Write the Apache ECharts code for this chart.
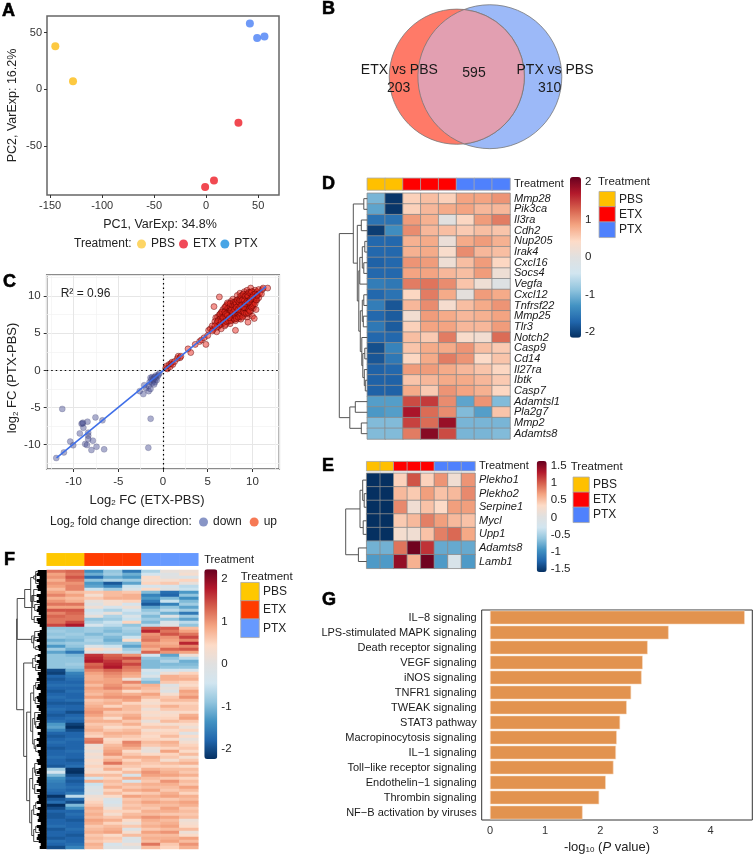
<!DOCTYPE html>
<html lang="en">

<head>
    <meta charset="UTF-8">
    <title>Treatment figure</title>
    <script src="https://cdn.jsdelivr.net/npm/echarts@6/dist/echarts.min.js"></script>
    <style>
        html, body { margin: 0; padding: 0; background: #fff; }
        #chart { width: 755px; height: 864px; }
    </style>
</head>

<body>
    <div id="chart"></div>
    <script>
        // ---- panel A
        const pcaPBS = [[-145, 38], [-128, 7]];
        const pcaETX = [[-1, -86.3], [7.5, -80.7], [31, -29.5]];
        const pcaPTX = [[42, 58], [49, 45.3], [56, 46.5]];

        // ---- panel B
        const vennCounts = [203, 595, 310];

        // ---- panel C
        const fcDown = [[-11.26, -5.2], [-9.0, -7.15], [-9.1, -7.2], [-8.95, -7.05], [-8.44, -6.92], [-7.55, -6.34], [-6.77, -6.74],
            [-8.9, -7.73], [-9.3, -8.5], [-8.36, -8.4], [-8.36, -8.8], [-8.36, -9.26], [-7.84, -9.48], [-10.37, -9.6],
            [-10.04, -10.1], [-8.7, -9.93], [-8.5, -10.07], [-7.43, -10.3], [-8, -10.74], [-6.58, -10.65], [-11.08, -11.06],
            [-11.93, -11.82], [-1.38, -6.52], [-1.64, -10.43],
            [-2.6, -2.8], [-2.2, -3.2], [-2.1, -2.0], [-1.9, -2.4], [-1.6, -2.8], [-1.6, -2.1], [-1.4, -2.5], [-1.3, -1.2],
            [-1.5, -1.6], [-1.2, -1.7], [-1.1, -1.4], [-1.4, -1.0], [-1.0, -1.0], [-1.2, -0.9], [-0.9, -1.6], [-0.8, -1.1],
            [-1.0, -1.9], [-0.8, -0.7], [-0.7, -1.3], [-0.6, -0.8], [-0.5, -0.6], [-0.4, -0.4], [-1.1, -1.2], [-0.9, -0.9]];
        const fcUp = [[0.3, 0.3], [0.4, 0.6], [0.5, 0.2], [0.7, 0.8], [0.8, 0.5], [0.9, 0.9], [1.0, 1.1], [1.1, 0.8], [1.3, 1.2],
            [1.6, 1.6], [1.7, 1.9], [1.9, 1.7], [2.0, 1.9], [2.8, 2.9], [3.1, 2.4], [3.6, 3.5], [4.1, 3.9], [4.3, 4.1], [4.6, 4.4],
            [4.8, 3.5], [5.0, 4.7], [5.1, 5.4], [5.3, 5.6],
            [5.5, 6.0], [5.6, 5.5], [5.7, 8.6], [5.8, 6.6], [5.9, 7.1], [6.0, 5.2], [6.0, 6.3], [6.1, 7.2], [6.2, 5.9], [6.2, 6.8],
            [6.3, 9.9], [6.3, 7.5], [6.4, 6.2], [6.5, 7.8], [6.5, 5.6], [6.6, 6.9], [6.6, 7.3], [6.7, 8.2], [6.7, 6.4], [6.8, 7.0],
            [6.8, 7.7], [6.9, 8.5], [6.9, 6.0], [7.0, 7.3], [7.0, 6.7], [7.0, 8.0], [7.1, 8.8], [7.1, 7.5], [7.2, 6.5], [7.2, 7.1],
            [7.2, 8.3], [7.3, 7.8], [7.3, 9.0], [7.4, 6.9], [7.4, 7.4], [7.4, 8.6], [7.5, 8.1], [7.5, 7.6], [7.5, 6.3], [7.6, 7.2],
            [7.6, 9.3], [7.6, 8.4], [7.7, 7.9], [7.7, 6.8], [7.7, 8.9], [7.8, 7.5], [7.8, 8.2], [7.8, 9.6], [7.9, 8.6], [7.9, 7.0],
            [7.9, 7.8], [8.0, 8.4], [8.0, 9.1], [8.0, 7.4], [8.1, 5.4], [8.1, 8.0], [8.1, 6.7], [8.1, 8.8], [8.2, 9.4], [8.2, 7.7],
            [8.2, 8.3], [8.3, 7.2], [8.3, 8.6], [8.3, 10.1], [8.4, 9.0], [8.4, 8.0], [8.4, 7.5], [8.5, 9.6], [8.5, 8.4], [8.5, 7.0],
            [8.6, 8.8], [8.6, 10.4], [8.6, 7.8], [8.7, 9.2], [8.7, 8.2], [8.7, 6.9], [8.8, 9.8], [8.8, 8.6], [8.8, 7.5], [8.9, 10.2],
            [8.9, 9.0], [8.9, 8.1], [9.0, 9.4], [9.0, 7.4], [9.0, 8.7], [9.1, 10.6], [9.1, 9.9], [9.1, 8.3], [9.2, 9.2], [9.2, 7.9],
            [9.2, 8.8], [9.3, 10.3], [9.3, 9.6], [9.3, 8.5], [9.4, 9.0], [9.4, 7.2], [9.4, 10.8], [9.5, 6.5], [9.5, 9.4], [9.5, 8.2],
            [9.6, 10.0], [9.6, 8.9], [9.6, 7.6], [9.7, 9.6], [9.7, 10.5], [9.7, 8.5], [9.8, 9.2], [9.8, 11.1], [9.8, 8.0], [9.9, 10.1],
            [9.9, 9.0], [10.0, 9.6], [10.0, 10.6], [10.0, 7.3], [10.1, 8.4], [10.1, 9.9], [10.2, 7.0], [10.2, 10.3], [10.2, 9.2],
            [10.3, 10.8], [10.3, 9.7], [10.4, 8.2], [10.4, 10.1], [10.5, 9.5], [10.5, 10.6], [10.6, 10.2], [10.7, 9.8], [10.7, 10.9],
            [10.8, 10.4], [11.0, 10.3], [11.1, 10.9], [11.2, 11.1], [11.7, 11.1],
            [7.1, 7.0], [7.3, 7.2], [7.4, 8.1], [7.6, 7.8], [7.8, 8.0], [7.9, 8.3], [8.0, 7.7], [8.1, 8.4], [8.2, 8.7], [8.3, 8.1],
            [8.4, 8.4], [8.5, 8.9], [8.6, 8.3], [8.7, 8.7], [8.8, 9.1], [8.9, 8.6], [9.0, 9.1], [9.1, 8.9], [9.2, 9.5], [9.3, 9.1],
            [9.4, 9.7], [9.5, 9.0], [9.6, 9.4], [9.7, 9.1], [9.8, 9.9], [9.9, 9.5], [10.0, 10.0], [10.1, 9.4], [8.2, 8.0], [8.5, 8.1],
            [8.8, 8.2], [9.0, 8.2], [8.4, 9.4], [8.7, 9.6], [9.0, 9.9], [9.3, 8.0], [7.6, 8.7], [7.3, 8.4], [6.9, 7.4], [6.4, 7.0],
            [6.1, 6.6], [6.3, 6.1], [6.4, 7.6], [6.5, 6.6], [6.6, 7.9], [6.7, 7.1], [6.8, 6.5], [6.9, 7.9], [7.0, 6.2], [7.0, 8.6],
            [7.1, 6.6], [7.2, 7.7], [7.2, 9.1], [7.3, 6.7], [7.4, 7.7], [7.5, 7.1], [7.5, 8.6], [7.5, 9.0], [7.6, 6.7], [7.7, 7.4],
            [7.7, 8.3], [7.8, 7.1], [7.8, 8.7], [7.9, 9.2], [7.9, 7.4], [8.0, 6.9], [8.0, 8.0], [8.0, 8.8], [8.1, 7.4], [8.1, 9.2],
            [8.2, 7.0], [8.2, 9.0], [8.3, 7.7], [8.3, 9.5], [8.4, 7.2], [8.4, 8.7], [8.5, 7.6], [8.5, 9.2], [8.6, 7.3], [8.6, 9.5],
            [8.7, 7.7], [8.7, 10.0], [8.8, 8.0], [8.8, 9.4], [8.9, 7.2], [8.9, 9.5], [9.0, 7.9], [9.0, 10.3], [9.1, 7.7], [9.1, 9.4],
            [9.2, 8.4], [9.2, 10.0], [9.3, 7.7], [9.3, 8.8], [9.4, 8.4], [9.4, 10.2], [9.5, 7.8], [9.5, 8.7], [9.5, 10.0], [9.6, 8.2],
            [9.6, 10.5], [9.7, 8.0], [9.7, 8.9], [9.8, 8.6], [9.8, 10.4], [9.9, 8.5], [9.9, 10.6], [10.0, 8.7], [10.0, 9.2], [10.1, 10.2],
            [10.1, 8.9], [10.2, 9.7], [10.3, 9.0], [10.3, 10.3], [10.4, 9.5], [10.5, 10.1], [6.0, 5.8], [5.8, 6.0], [5.5, 5.3], [7.0, 7.6],
            [7.2, 7.4], [7.4, 7.1], [7.6, 8.1], [7.8, 7.8], [8.0, 8.2], [8.2, 8.5], [8.4, 8.2], [8.6, 8.6], [8.8, 8.8], [9.0, 8.5],
            [9.2, 9.0], [9.4, 9.3], [9.6, 9.2], [9.8, 9.6], [10.0, 9.9]];
        const fcFit = [[-11.9, -11.8], [11.5, 11.3]];

        // ---- panel D, genes by columns PBS PBS ETX ETX ETX PTX PTX PTX
        const treatmentCols = [0, 0, 1, 1, 1, 2, 2, 2];
        const genesD = ['Mmp28', 'Pik3ca', 'Il3ra', 'Cdh2', 'Nup205', 'Irak4', 'Cxcl16', 'Socs4', 'Vegfa', 'Cxcl12', 'Tnfrsf22',
            'Mmp25', 'Tlr3', 'Notch2', 'Casp9', 'Cd14', 'Il27ra', 'Ibtk', 'Casp7', 'Adamtsl1', 'Pla2g7', 'Mmp2', 'Adamts8'];
        const heatD = [
            [-1.0, -2.1, .5, .65, .5, .85, .85, .95],
            [-1.15, -2.1, .5, .7, .8, .85, .7, .7],
            [-1.6, -1.6, .9, .75, 0, .45, .9, 1.1],
            [-2.05, -1.35, 1.0, .7, .65, .55, .65, .6],
            [-1.7, -1.7, .75, .8, .15, .8, .9, .75],
            [-1.7, -1.7, .75, .8, .35, 1.0, .7, .65],
            [-1.75, -1.7, .95, .9, .2, .65, .9, .45],
            [-1.7, -1.7, .85, .85, .7, .65, .9, .2],
            [-1.5, -1.55, 1.1, 1.15, 1.0, .6, .2, -.1],
            [-1.7, -1.6, .45, 1.1, .8, .05, .9, .8],
            [-1.5, -1.85, .7, 1.0, .3, .65, .8, .95],
            [-1.7, -1.8, .25, .9, .8, .7, .75, .85],
            [-1.55, -1.8, .5, .85, .85, .7, .7, .9],
            [-1.7, -1.7, .65, .55, 1.1, .35, .25, 1.2],
            [-1.9, -1.45, .6, .8, .8, .95, .65, .55],
            [-1.85, -1.55, .45, .8, 1.1, .95, .4, .6],
            [-1.75, -1.7, .9, .9, .8, .7, .6, .45],
            [-1.75, -1.75, .6, .7, .8, .8, .7, .55],
            [-1.75, -1.75, .8, .55, .95, .85, .75, .45],
            [-1.2, -1.2, 1.4, 1.5, 1.0, -1.15, .95, -.95],
            [-1.25, -1.2, 1.75, 1.2, 1.0, -.95, -1.2, .6],
            [-.95, -.95, 1.45, 1.2, 1.85, -1, -1, -1],
            [-.95, -.95, 1.1, 1.95, 1.4, -1, -1, -.95]
        ];
        const treeD = [28,
            [14, [3.5, 0, 1],
                [10, [6, 2, 3],
                    [8.5,
                        [7.5, [5, [2.5, 4, 5], [3.5, 6, 7]], 8],
                        [7, [5, [3.5, 9, 10], [4, 11, 12]],
                            [5.5, 13, [4.5, [2.5, 14, 15], [3, 16, [2, 17, 18]]]]]]]],
            [17.5, [12, 19, 20], [6, 21, 22]]];

        // ---- panel E
        const genesE = ['Plekho1', 'Plekho2', 'Serpine1', 'Mycl', 'Upp1', 'Adamts8', 'Lamb1'];
        const heatE = [
            [-1.6, -1.6, .4, 1.05, .4, .75, .2, .75],
            [-1.6, -1.6, .55, .45, .7, .5, .55, .8],
            [-1.6, -1.6, .8, .2, .5, .35, .7, .7],
            [-1.6, -1.6, .45, .55, .85, .7, .55, .5],
            [-1.6, -1.6, .25, .2, .5, .85, .95, .65],
            [-.75, -.75, .9, 1.6, 1.2, -.8, -.8, -.8],
            [-.9, -.9, 1.45, .6, 1.6, -.9, -.15, -.9]
        ];
        const treeE = [21, [6.7, [4, 0, [2.5, 1, 2]], [3.5, 3, 4]], [8.3, 5, 6]];

        // ---- panel F, values in tenths
        const heatF = [
            [12, 13, -14, -9, -16, -7, 1, 2], [9, 12, -11, -8, -11, -4, -1, 3], [10, 14, -17, -11, -13, 4, 0, -2],
            [8, 12, -9, -7, -8, 3, 3, 5], [10, 10, -13, -19, -12, 5, 6, 1], [9, 11, -12, -15, -5, -3, -3, -6],
            [7, 11, -5, -8, -2, 4, -1, -5], [9, 7, 6, 7, 6, -10, -17, -13], [11, 9, 3, 7, 8, -15, -18, -9],
            [8, 7, 6, 8, 8, -13, -10, -14], [10, 8, 1, 3, 5, -16, -5, -10], [12, 12, -1, 3, -3, -19, -15, -8],
            [9, 9, 2, -3, 2, -12, -9, -12], [14, 14, -5, -7, -4, -9, -6, -8], [11, 13, -3, 1, -6, -7, -11, -16],
            [13, 12, 1, -7, -2, -10, -1, -8], [12, 12, -9, -8, -5, -8, -9, -12], [12, 15, -7, -5, 5, -10, -2, -6],
            [15, 18, -3, -6, -9, -6, -1, -9], [-9, -9, -8, -9, -7, 14, 14, 7], [-8, -9, -8, -10, -8, 17, 12, 9],
            [-9, -8, -10, -8, -9, 10, 14, 12], [-8, -9, -8, -10, -5, 11, 10, 15], [-11, -10, -7, -11, 4, 12, 9, 11],
            [-9, -8, -8, -9, -9, 9, 8, 17], [-13, -9, -2, -5, -12, 10, 9, 11], [-8, -11, 4, 2, -8, 8, 13, 14],
            [-12, -16, -1, -3, -6, 13, 10, 9], [-9, -10, 16, 13, 10, -4, -12, 2], [-9, -9, 17, 14, 15, -9, -9, -6],
            [-9, -9, 18, 16, 12, -10, -7, -11], [-9, -8, 13, 17, 15, -10, -10, -10], [-9, -9, 14, 18, 12, -10, -9, -9],
            [-20, -11, 11, 13, 11, -3, -4, -3], [-21, -15, 9, 11, 9, -5, 2, 5], [-18, -16, 8, 10, 8, -2, 8, 7],
            [-19, -17, 8, 9, 2, -7, 8, 8], [-18, -18, 9, 9, 11, -10, 6, 5], [-17, -17, 7, 10, 7, 8, -1, 4],
            [-18, -18, 9, 11, 9, 7, 1, 6], [-19, -17, 8, 8, 4, 6, -1, 9], [-18, -18, 7, 9, 8, 9, 3, 8],
            [-17, -18, 9, 10, 10, 7, 6, 10], [-18, -17, 6, 7, 9, 4, 7, 7], [-19, -19, 7, 8, 5, 3, 5, 5],
            [-18, -18, 8, 5, 7, 5, 8, 6], [-17, -18, 9, 9, 7, 2, 6, 6], [-18, -20, 10, 6, 6, 4, 3, 4],
            [-19, -18, 9, 7, 8, 3, 4, 8], [-18, -17, 7, 4, 9, 5, 5, 9], [-17, -18, 8, 8, 6, 1, 7, 6],
            [-13, -21, 6, 6, 8, 4, 3, 4], [-12, -23, 7, 4, 5, 6, 6, 2], [-15, -20, 8, 6, 7, 3, 4, 5],
            [-18, -18, 6, 8, 8, 5, 5, -1], [-19, -18, 5, 7, 6, 4, 7, 4], [-18, -17, 11, 4, 5, 5, 4, 1],
            [-17, -18, 12, 5, 11, 7, 8, 3], [-18, -18, 2, 7, 10, 6, 7, 5], [-19, -18, 3, 8, 8, 2, 5, 6],
            [-18, -17, 1, 9, 4, 1, 9, 4], [-18, -18, 3, 10, 6, 4, 5, 7], [-17, -18, 2, 6, 8, 8, 6, 3],
            [-18, -19, 4, 8, 5, 7, 3, 6], [-18, -18, 3, 12, 7, 6, 7, 8], [-19, -17, 5, 6, 6, 5, 5, 4],
            [-8, -22, 3, 8, 4, 8, 7, 7], [-4, -23, 4, 4, 7, 10, 8, 6], [-10, -20, 7, 7, -2, 9, 9, 8],
            [-14, -18, -4, 5, 8, 7, 6, 5], [-15, -19, 8, 7, -3, 6, 10, 7], [-16, -18, -5, 6, 7, 8, 8, 6],
            [-16, -17, -2, 8, 6, 7, 7, 9], [-17, -18, -1, 5, 8, 9, 6, 7], [-18, -16, -2, 7, 5, 6, 8, 5],
            [-22, -6, 2, 4, 9, 8, 9, 8], [-19, -17, 3, -2, 6, 7, 6, 7], [-17, -20, 5, -3, 7, 9, 8, 9],
            [-24, -10, 6, -1, 6, 7, 7, 8], [-20, -14, 8, 2, 7, 6, 9, 6], [-18, -18, 7, 5, 5, 8, 8, 7],
            [-19, -17, 8, 3, 7, 7, 6, 6], [-19, -18, 7, 6, 8, 10, 9, 7], [-18, -19, 9, 8, 4, 8, 7, 2],
            [-18, -18, 8, 5, 2, 7, 8, 3], [-17, -18, 6, 7, 6, 8, 9, 4], [-19, -17, 7, 8, -1, 6, 7, 7],
            [-18, -18, 8, 9, 3, 9, 10, 2], [-18, -19, 6, 4, 7, 7, 7, 4], [-19, -18, 7, 6, -1, 8, 8, 9],
            [-17, -18, 6, 5, -2, 7, 9, 7], [-18, -17, 8, -3, 2, 12, 6, 10], [-20, -15, 7, -1, -1, 7, 5, 8]
        ];
        const leafDepthF = [9, 10, 7, 10, 8, 10, 9, 6, 10, 8, 10, 7, 9, 10, 8, 6, 10, 9, 7, 5, 7, 9, 8, 10, 7, 9, 8, 6, 9, 7, 10, 8, 9,
            6, 9, 8, 10, 7, 9, 10, 6, 8, 10, 9, 7, 10, 8, 6, 9, 10, 7, 8, 10, 6, 9, 7, 10, 8, 10, 6, 9, 8, 7, 10, 9, 6, 8, 10, 7, 9,
            10, 8, 6, 10, 7, 9, 8, 10, 6, 9, 7, 10, 8, 9, 6, 10, 8, 7, 9, 10, 8, 6, 7];
        const treeF = [30,
            [29.5,
                [22, [16, [13, [11, 1, 4], [11, 0, 3]], [14, 8, [12, 11, 13]]], [15, [12.5, 15, 17], [13, 6, 10]]],
                [15, [12, 20, 23], [13, [11, 25, 26], 22]]],
            [23,
                [14, [11.5, 28, 30], [11, 31, 33]],
                [20, [16, [13, [11, 37, 39], [11.5, 42, 44]], [14, [12, 47, [11, 50, 52]], [12.5, 56, [11, 58, 60]]]],
                    [17, [14, [12, 64, [11, 66, 68]], [12, 71, 74]], [15, [13, [11, 77, 79], 81], [13, [11, 85, 87], 90]]]]]];

        // ---- panel G
        const pathways = ['IL\u22128 signaling', 'LPS-stimulated MAPK signaling', 'Death receptor signaling', 'VEGF signaling',
            'iNOS signaling', 'TNFR1 signaling', 'TWEAK signaling', 'STAT3 pathway', 'Macropinocytosis signaling', 'IL\u22121 signaling',
            'Toll\u2212like receptor signaling', 'Endothelin\u22121 signaling', 'Thrombin signaling', 'NF\u2212B activation by viruses'];
        const pathwayP = [4.62, 3.24, 2.86, 2.77, 2.75, 2.56, 2.48, 2.36, 2.30, 2.285, 2.24, 2.10, 1.98, 1.68];

        const treatments = ['PBS', 'ETX', 'PTX'];
        const colNames = ['1', '2', '3', '4', '5', '6', '7', '8'];

        const FONT = '"Liberation Sans", Arial, sans-serif';
        const INK = '#222';
        const RDBU = ['#053061', '#2166ac', '#4393c3', '#92c5de', '#d1e5f0', '#e0e0e0', '#fddbc7', '#f4a582', '#d6604d', '#b2182b', '#67001f'];

        const grids = [], xAxes = [], yAxes = [], series = [], visualMaps = [], graphics = [];

        function addGrid(box, x, y, gridExtra) {
            const i = grids.length;
            grids.push(Object.assign({ left: box[0], top: box[1], width: box[2], height: box[3] }, gridExtra));
            xAxes.push(Object.assign({ gridIndex: i }, x));
            yAxes.push(Object.assign({ gridIndex: i }, y));
            return i;
        }
        function hidden(min, max, inverse) {
            return { type: 'value', show: false, min: min, max: max, inverse: !!inverse };
        }
        function catAxis(data, extra) {
            return Object.assign({
                type: 'category', data: data, axisLine: { show: false }, axisTick: { show: false }, axisLabel: { show: false }
            }, extra);
        }
        function text(str, x, y, opt) {
            graphics.push({
                type: 'text', x: x, y: y, z: 100, silent: true,
                style: Object.assign({ text: str, fontFamily: FONT, fontSize: 12, fill: INK, align: 'left', verticalAlign: 'middle' }, opt)
            });
        }
        function segmentSeries(g, segs, color, width) {
            series.push({
                type: 'custom', xAxisIndex: g, yAxisIndex: g, data: segs, encode: { x: [0, 2], y: [1, 3] }, clip: false, silent: true,
                renderItem: function (params, api) {
                    const a = api.coord([api.value(0), api.value(1)]);
                    const b = api.coord([api.value(2), api.value(3)]);
                    return {
                        type: 'line', shape: { x1: a[0], y1: a[1], x2: b[0], y2: b[1] },
                        style: { stroke: color, lineWidth: width, fill: null }
                    };
                }
            });
        }
        function dendroSegments(tree, leafH) {
            const segs = [];
            (function walk(n) {
                if (typeof n === 'number') return { y: n, h: leafH ? leafH[n] : 0 };
                const a = walk(n[1]), b = walk(n[2]);
                segs.push([a.h, a.y, n[0], a.y], [b.h, b.y, n[0], b.y], [n[0], a.y, n[0], b.y]);
                return { y: (a.y + b.y) / 2, h: n[0] };
            })(tree);
            return segs;
        }
        function cells(rows, scale) {
            const out = [];
            rows.forEach(function (r, i) {
                r.forEach(function (v, j) { out.push([j, i, scale ? v * scale : v]); });
            });
            return out;
        }
        // one heatmap panel with its dendrogram, annotation bar, colour bar and treatment key
        function heatPanel(p) {
            const g = addGrid(p.heat,
                catAxis(colNames),
                catAxis(p.rowNames, {
                    inverse: true, position: 'right',
                    axisLabel: { show: !!p.labelled, interval: 0, margin: 4, fontStyle: 'italic', fontFamily: FONT, fontSize: 11, color: '#1a1a1a' }
                }));
            series.push({
                type: 'heatmap', xAxisIndex: g, yAxisIndex: g, data: p.cells, silent: true,
                itemStyle: p.border ? { borderColor: p.border, borderWidth: 0.8 } : {}
            });
            const heatSeries = series.length - 1;
            visualMaps.push({
                type: 'continuous', seriesIndex: heatSeries, min: p.range[0], max: p.range[1], inRange: { color: RDBU },
                left: p.bar[0], top: p.bar[1], itemWidth: p.bar[2], itemHeight: p.bar[3], padding: 0, calculable: false, hoverLink: false
            });
            const labelG = addGrid(p.bar, hidden(0, 1), {
                type: 'value', min: p.range[0], max: p.range[1], position: 'right',
                axisLine: { show: false, onZero: false }, axisTick: { show: false }, splitLine: { show: false },
                axisLabel: { customValues: p.barTicks, margin: 4, fontFamily: FONT, fontSize: 11.5, color: INK, formatter: function (v) { return String(v); } }
            });
            // dendrogram
            const rows = p.rowNames.length;
            const dg = addGrid([p.heat[0] - p.treeH, p.heat[1], p.treeH, p.heat[3]], hidden(0, p.treeH, true), hidden(-0.5, rows - 0.5, true));
            segmentSeries(dg, dendroSegments(p.tree, p.leafH), p.treeColor || '#555', p.treeWidth || 1);
            if (p.leafH) {
                segmentSeries(dg, p.leafH.map(function (d, i) { return [0, i, d, i]; }), '#000', 3);
            }
            // annotation bar
            const ag = addGrid(p.anno, catAxis(colNames), catAxis(['Treatment'], {
                position: 'right', axisLabel: { show: true, margin: p.annoMargin, fontFamily: FONT, fontSize: 11, color: INK }
            }));
            series.push({
                type: 'heatmap', xAxisIndex: ag, yAxisIndex: ag, silent: true,
                data: treatmentCols.map(function (t, j) { return [j, 0, t]; }),
                itemStyle: p.border ? { borderColor: '#a8a8a8', borderWidth: 0.8 } : {}
            });
            const annoSeries = series.length - 1;
            // key
            const kg = addGrid(p.key, catAxis(['k']), catAxis(treatments, {
                inverse: true, position: 'right',
                axisLabel: { show: true, interval: 0, margin: 4, fontFamily: FONT, fontSize: 12, color: INK }
            }));
            series.push({
                type: 'heatmap', xAxisIndex: kg, yAxisIndex: kg, silent: true,
                data: treatments.map(function (t, i) { return [0, i, i]; }),
                itemStyle: { borderColor: '#a8a8a8', borderWidth: 0.8 }
            });
            visualMaps.push({
                type: 'piecewise', show: false, seriesIndex: [annoSeries, series.length - 1],
                pieces: p.palette.map(function (c, i) { return { value: i, color: c }; })
            });
            text('Treatment', p.keyTitle[0], p.keyTitle[1], { fontSize: 11.5 });
            return labelG;
        }

        // panel letters
        [['A', 2, 11], ['B', 322, 9], ['C', 3, 282], ['D', 322, 184], ['E', 322, 466], ['F', 4, 560], ['G', 322, 600]].forEach(function (l) {
            text(l[0], l[1], l[2], { fontSize: 18, fontWeight: 'bold', fill: '#000', stroke: '#000', lineWidth: 0.6 });
        });

        // ---- A
        const tickStyle = { fontFamily: FONT, fontSize: 11, color: '#333' };
        const nameStyle = { fontFamily: FONT, fontSize: 12.5, color: INK };
        const frame = { show: true, borderColor: '#666', borderWidth: 1.5 };
        const gA = addGrid([47, 16, 232, 179], {
            type: 'value', min: -153, max: 70, splitLine: { show: false }, axisLine: { show: false, onZero: false },
            axisTick: { length: 3, customValues: [-150, -100, -50, 0, 50], lineStyle: { color: '#333' } },
            axisLabel: Object.assign({ customValues: [-150, -100, -50, 0, 50], margin: 5 }, tickStyle),
            name: 'PC1, VarExp: 34.8%', nameLocation: 'middle', nameGap: 23, nameTextStyle: Object.assign({ padding: [0, 6, 0, 0] }, nameStyle)
        }, {
            type: 'value', min: -93.4, max: 64.7, splitLine: { show: false }, axisLine: { show: false, onZero: false },
            axisTick: { length: 3, customValues: [-50, 0, 50], lineStyle: { color: '#333' } },
            axisLabel: Object.assign({ customValues: [-50, 0, 50], margin: 5 }, tickStyle),
            name: 'PC2, VarExp: 16.2%', nameLocation: 'middle', nameGap: 28, nameTextStyle: nameStyle
        }, frame);
        [['PBS', pcaPBS, '#fdbb12'], ['ETX', pcaETX, '#ee1c25'], ['PTX', pcaPTX, '#4a80f5']].forEach(function (s) {
            series.push({
                type: 'scatter', name: s[0], xAxisIndex: gA, yAxisIndex: gA, data: s[1], symbolSize: 8,
                itemStyle: { color: s[2] }, silent: true
            });
        });
        text('Treatment:', 74, 243.5);

        // ---- B, the circles have areas proportional to the counts
        const vennR1 = Math.sqrt((vennCounts[0] + vennCounts[1]) / Math.PI);
        const vennR2 = Math.sqrt((vennCounts[1] + vennCounts[2]) / Math.PI);
        function lensArea(d) {
            const a = vennR1 * vennR1 * Math.acos((d * d + vennR1 * vennR1 - vennR2 * vennR2) / (2 * d * vennR1));
            const b = vennR2 * vennR2 * Math.acos((d * d + vennR2 * vennR2 - vennR1 * vennR1) / (2 * d * vennR2));
            const c = 0.5 * Math.sqrt((-d + vennR1 + vennR2) * (d + vennR1 - vennR2) * (d - vennR1 + vennR2) * (d + vennR1 + vennR2));
            return a + b - c;
        }
        let lo = vennR2 - vennR1 + 0.01, hi = vennR1 + vennR2 - 0.01;
        for (let i = 0; i < 50; i++) {
            const mid = (lo + hi) / 2;
            if (lensArea(mid) > vennCounts[1]) lo = mid; else hi = mid;
        }
        const vennD = (lo + hi) / 2;
        const VENN_SCALE = 4.24;
        const vennX = (456.8 - 380) / VENN_SCALE, vennY = 76.7 / VENN_SCALE;
        const gB = addGrid([380, 0, 190, 154], hidden(0, 190 / VENN_SCALE), hidden(0, 154 / VENN_SCALE, true));
        series.push({
            type: 'custom', xAxisIndex: gB, yAxisIndex: gB, silent: true, clip: false, encode: { x: 0, y: 1 },
            data: [[vennX + vennD, vennY, vennR2, 0], [vennX, vennY, vennR1, 1], [vennX, vennY, vennR1, 2]],
            renderItem: function (params, api) {
                const kind = api.value(3);
                const c = api.coord([api.value(0), api.value(1)]);
                const r = api.size([api.value(2), 0])[0];
                const edge = { stroke: '#777', lineWidth: 0.8 };
                if (kind < 2) {
                    return {
                        type: 'circle', shape: { cx: c[0], cy: c[1], r: r },
                        style: Object.assign({ fill: kind === 0 ? '#9cb9f8' : '#ff7a68' }, edge)
                    };
                }
                const r1 = r, r2 = api.size([vennR2, 0])[0], d = api.size([vennD, 0])[0];
                const a = (d * d + r1 * r1 - r2 * r2) / (2 * d);
                const h = Math.sqrt(r1 * r1 - a * a);
                const ix = c[0] + a;
                return {
                    type: 'path',
                    shape: {
                        pathData: 'M' + ix + ' ' + (c[1] - h) + 'A' + r2 + ' ' + r2 + ' 0 0 0 ' + ix + ' ' + (c[1] + h) +
                            'A' + r1 + ' ' + r1 + ' 0 0 0 ' + ix + ' ' + (c[1] - h) + 'Z'
                    },
                    style: Object.assign({ fill: '#e29fb1' }, edge)
                };
            }
        });
        const vennText = { fontSize: 14, align: 'center', fill: '#1a1a1a' };
        text('ETX vs PBS', 399.3, 70, vennText);
        text(String(vennCounts[0]), 398.7, 88, vennText);
        text(String(vennCounts[1]), 474, 73, vennText);
        text('PTX vs PBS', 555, 70, vennText);
        text(String(vennCounts[2]), 549.7, 88, vennText);

        // ---- C
        const subRich = {
            t: { fontFamily: FONT, fontSize: 13, color: INK },
            s: { fontFamily: FONT, fontSize: 8, color: INK, verticalAlign: 'bottom', padding: [6, 0, 0, 0] }
        };
        const gridMajor = { show: true, lineStyle: { color: '#e6e6e6', width: 1 } };
        const gridMinor = { show: true, lineStyle: { color: '#f2f2f2', width: 0.7 } };
        const gC = addGrid([46.7, 275, 232.6, 194], {
            type: 'value', min: -13, max: 13, splitNumber: 5, axisLine: { show: false, onZero: false },
            splitLine: gridMajor, minorSplitLine: gridMinor, minorTick: { splitNumber: 2 },
            axisTick: { length: 3, lineStyle: { color: '#333' } },
            axisLabel: Object.assign({ showMinLabel: false, showMaxLabel: false, margin: 7 }, tickStyle, { fontSize: 11.5 }),
            name: '{t|Log}{s|2}{t| FC (ETX-PBS)}', nameLocation: 'middle', nameGap: 24,
            nameTextStyle: { rich: subRich, padding: [0, 32, 0, 0] }
        }, {
            type: 'value', min: -13.3, max: 12.86, splitNumber: 5, axisLine: { show: false, onZero: false },
            splitLine: gridMajor, minorSplitLine: gridMinor, minorTick: { splitNumber: 2 },
            axisTick: { length: 3, lineStyle: { color: '#333' } },
            axisLabel: Object.assign({ showMinLabel: false, showMaxLabel: false, margin: 6 }, tickStyle, { fontSize: 11.5 }),
            name: '{t|log}{s|2}{t| FC (PTX-PBS)}', nameLocation: 'middle', nameGap: 27,
            nameTextStyle: { rich: subRich, padding: [0, 12, 0, 0] }
        }, frame);
        const dotted = { color: '#000', type: [1.5, 3], width: 1.2 };
        series.push({
            type: 'scatter', name: 'down', xAxisIndex: gC, yAxisIndex: gC, data: fcDown, symbolSize: 6, silent: true,
            itemStyle: { color: 'rgba(80,85,150,0.6)', borderColor: 'rgba(40,40,90,0.5)', borderWidth: 0.5 }
        }, {
            type: 'scatter', name: 'up', xAxisIndex: gC, yAxisIndex: gC, data: fcUp, symbolSize: 6, silent: true,
            itemStyle: { color: 'rgba(232,40,30,0.62)', borderColor: 'rgba(90,0,0,0.8)', borderWidth: 0.7 },
            markLine: {
                silent: true, symbol: 'none', label: { show: false }, lineStyle: dotted, animation: false,
                data: [{ xAxis: 0 }, { yAxis: 0 }]
            }
        }, {
            type: 'line', xAxisIndex: gC, yAxisIndex: gC, data: fcFit, symbol: 'none', silent: true,
            lineStyle: { color: '#3f6fe8', width: 1.6 }
        });
        text('R\u00b2 = 0.96', 60.7, 294, { fontSize: 12 });
        text('{t|Log}{s|2}{t| fold change direction:}', 50, 522, { rich: { t: { fontFamily: FONT, fontSize: 12, fill: INK }, s: { fontFamily: FONT, fontSize: 8, fill: INK, verticalAlign: 'bottom', padding: [5, 0, 0, 0] } } });

        // ---- D, E, F
        heatPanel({
            heat: [367.3, 193.3, 142.7, 245.7], anno: [367.3, 178.3, 142.7, 11.7], annoMargin: 4, bar: [570, 177, 11, 160.7],
            range: [-2.15, 2.13], barTicks: [-2, -1, 0, 1, 2], rowNames: genesD, labelled: true, cells: cells(heatD), border: '#8c8c8c',
            tree: treeD, treeH: 28, key: [599.3, 191.7, 15.7, 45.6], keyTitle: [598, 182],
            palette: ['#ffc000', '#ff0000', '#4f81fd']
        });
        heatPanel({
            heat: [366.7, 473.3, 108.3, 95], anno: [366.7, 461.7, 108.3, 9], annoMargin: 4, bar: [536.7, 461, 10, 111],
            range: [-1.59, 1.64], barTicks: [-1.5, -1, -0.5, 0, 0.5, 1, 1.5], rowNames: genesE, labelled: true, cells: cells(heatE), border: '#8c8c8c',
            tree: treeE, treeH: 21, key: [573.3, 477.3, 15.7, 45], keyTitle: [570.7, 467.3],
            palette: ['#ffc000', '#ff0000', '#4f81fd']
        });
        heatPanel({
            heat: [46.7, 570, 151.6, 279], anno: [46.7, 553.3, 151.6, 12.4], annoMargin: 6, bar: [204.3, 569.3, 13, 189.7],
            range: [-2.24, 2.23], barTicks: [-2, -1, 0, 1, 2], rowNames: heatF.map(function (r, i) { return String(i); }), cells: cells(heatF, 0.1),
            tree: treeF, treeH: 30, leafH: leafDepthF, treeColor: '#333', treeWidth: 0.9, key: [241, 582.7, 18, 54.6], keyTitle: [240.7, 577.3],
            palette: ['#ffc800', '#ff3c00', '#6699ff']
        });

        // ---- G
        const gG = addGrid([481.7, 610, 270.6, 210], {
            type: 'value', min: -0.15, max: 4.756, splitLine: { show: false }, axisLine: { show: false, onZero: false },
            axisTick: { length: 3, customValues: [0, 1, 2, 3, 4], lineStyle: { color: '#333' } },
            axisLabel: Object.assign({ customValues: [0, 1, 2, 3, 4], margin: 5 }, tickStyle),
            name: '{t|-log}{s|10}{t| (}{i|P}{t| value)}', nameLocation: 'middle', nameGap: 20,
            nameTextStyle: {
                padding: [0, 20, 0, 0],
                rich: { t: subRich.t, s: subRich.s, i: { fontFamily: FONT, fontSize: 13, fontStyle: 'italic', color: INK } }
            }
        }, {
            type: 'category', data: pathways, inverse: true, axisLine: { show: false, onZero: false },
            axisTick: { length: 2, alignWithLabel: true, lineStyle: { color: '#333' } }, splitLine: { show: false },
            axisLabel: { interval: 0, margin: 5, fontFamily: FONT, fontSize: 11, color: '#1a1a1a' }
        }, { show: true, borderColor: '#333', borderWidth: 1 });
        series.push({
            type: 'bar', xAxisIndex: gG, yAxisIndex: gG, data: pathwayP, barCategoryGap: '8%', silent: true,
            itemStyle: { color: '#e2934f', borderColor: '#f7dcc2', borderWidth: 0.6 }
        });

        const chart = echarts.init(document.getElementById('chart'));
        chart.setOption({
            animation: false,
            textStyle: { fontFamily: FONT },
            grid: grids,
            xAxis: xAxes,
            yAxis: yAxes,
            visualMap: visualMaps,
            graphic: { elements: graphics },
            legend: [{
                left: 137, top: 238, padding: 0, icon: 'circle', itemWidth: 9, itemHeight: 9, itemGap: 4, selectedMode: false,
                textStyle: { fontFamily: FONT, fontSize: 12, color: INK },
                data: [
                    { name: 'PBS', itemStyle: { color: '#fdcb3e' } },
                    { name: 'ETX', itemStyle: { color: '#ee1c2e' } },
                    { name: 'PTX', itemStyle: { color: '#1a8fe0' } }
                ]
            }, {
                left: 199, top: 516, padding: 0, icon: 'circle', itemWidth: 9, itemHeight: 9, itemGap: 8, selectedMode: false,
                textStyle: { fontFamily: FONT, fontSize: 12, color: INK },
                data: [
                    { name: 'down', itemStyle: { color: '#6a7bb8', borderWidth: 0 } },
                    { name: 'up', itemStyle: { color: '#f4582a', borderWidth: 0 } }
                ]
            }],
            series: series
        });
    </script>
</body>

</html>
